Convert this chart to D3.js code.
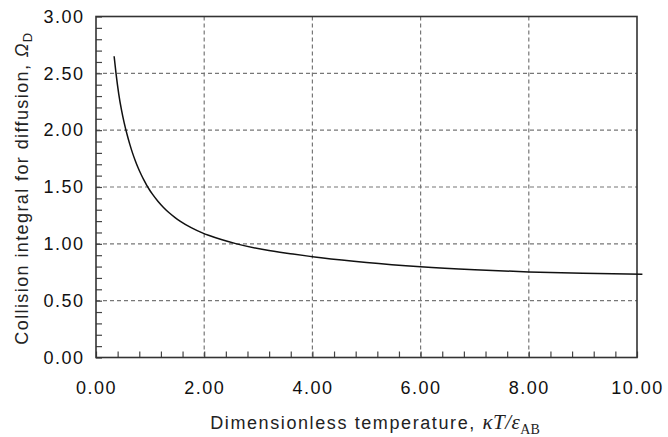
<!DOCTYPE html>
<html><head><meta charset="utf-8">
<script src="https://cdn.jsdelivr.net/npm/d3@7"></script>
<style>body{margin:0;background:#fff}svg{display:block}</style>
</head><body>
<svg id="c" width="668" height="437"></svg>
<script>
const temperature = [0.335, 0.37, 0.42, 0.47, 0.52, 0.572, 0.624, 0.676, 0.728, 0.78, 0.832, 0.884, 0.936, 0.988, 1.04, 1.144, 1.248, 1.352, 1.456, 1.56, 1.768, 1.976, 2.08, 2.6, 3.12, 3.64, 4.16, 5.0, 6.0, 7.0, 8.0, 9.0, 10.1];
const omegaD =      [2.65, 2.50, 2.32, 2.18, 2.066, 1.966, 1.877, 1.798, 1.729, 1.667, 1.612, 1.562, 1.517, 1.476, 1.439, 1.375, 1.320, 1.273, 1.233, 1.198, 1.140, 1.094, 1.075, 0.9996, 0.947, 0.91, 0.877, 0.835, 0.798, 0.772, 0.753, 0.741, 0.732];
const xTicks = [0, 2, 4, 6, 8, 10];
const yTicks = [0, 0.5, 1.0, 1.5, 2.0, 2.5, 3.0];
const xMinor = d3.range(0, 10.001, 0.4);
const yMinor = d3.range(0, 3.001, 0.1);

const svg = d3.select("#c");
const L = 96, R = 637, T = 16.5, B = 357.5;
const x = d3.scaleLinear().domain([0, 10]).range([L, R]);
const y = d3.scaleLinear().domain([0, 3]).range([B, T]);
const font = "'Liberation Sans', Arial, sans-serif";
const serif = "'Liberation Serif', 'Times New Roman', serif";

// grid
const g = svg.append("g");
g.selectAll(".gx").data(xTicks.filter(d => d > 0 && d < 10)).enter().append("line")
  .attr("x1", d => x(d)).attr("x2", d => x(d)).attr("y1", T).attr("y2", B)
  .attr("stroke", "#777").attr("stroke-width", 1.2).attr("stroke-dasharray", "4,3");
g.selectAll(".gy").data(yTicks.filter(d => d > 0 && d < 3)).enter().append("line")
  .attr("y1", d => y(d)).attr("y2", d => y(d)).attr("x1", L).attr("x2", R)
  .attr("stroke", "#777").attr("stroke-width", 1.2).attr("stroke-dasharray", "4,3");

// minor ticks (inside)
svg.append("g").attr("transform", `translate(${L},0)`)
  .call(d3.axisRight(y).tickValues(yMinor).tickSize(6).tickFormat(""))
  .call(a => a.select(".domain").remove())
  .selectAll("line").attr("stroke", "#444").attr("stroke-width", 1.2);
svg.append("g").attr("transform", `translate(0,${B})`)
  .call(d3.axisTop(x).tickValues(xMinor).tickSize(6).tickFormat(""))
  .call(a => a.select(".domain").remove())
  .selectAll("line").attr("stroke", "#444").attr("stroke-width", 1.2);

// tick labels
const yAx = svg.append("g").attr("transform", `translate(${L},0)`)
  .call(d3.axisLeft(y).tickValues(yTicks).tickSize(0).tickPadding(11.5).tickFormat(d3.format(".2f")));
yAx.select(".domain").remove();
yAx.selectAll("text").attr("font-family", font).attr("font-size", 18).attr("letter-spacing", 1.5).attr("fill", "#111");
const xAx = svg.append("g").attr("transform", `translate(0,${B})`)
  .call(d3.axisBottom(x).tickValues(xTicks).tickSize(0).tickPadding(24).tickFormat(d3.format(".2f")));
xAx.select(".domain").remove();
xAx.selectAll("text").attr("font-family", font).attr("font-size", 18).attr("letter-spacing", 1.5).attr("fill", "#111");

// frame
svg.append("rect").attr("x", L).attr("y", T).attr("width", R - L).attr("height", B - T)
  .attr("fill", "none").attr("stroke", "#333").attr("stroke-width", 1.6);

// curve
const pts = temperature.map((t, i) => [t, omegaD[i]]);
svg.append("path").datum(pts)
  .attr("d", d3.line().x(d => x(d[0])).y(d => y(d[1])).curve(d3.curveMonotoneX))
  .attr("fill", "none").attr("stroke", "#111").attr("stroke-width", 1.5);

// x title
const xt = svg.append("text").attr("x", 375).attr("y", 429).attr("text-anchor", "middle")
  .attr("font-family", font).attr("font-size", 18).attr("letter-spacing", 1.6).attr("fill", "#222");
xt.append("tspan").text("Dimensionless temperature, ");
xt.append("tspan").attr("font-family", serif).attr("font-style", "italic").attr("font-size", 21).attr("letter-spacing", 0.5).text("κT/ε");
xt.append("tspan").attr("font-family", serif).attr("font-size", 14).attr("letter-spacing", 0).attr("dy", 5).text("AB");

// y title
const yt = svg.append("text").attr("transform", `translate(28,${(T + B) / 2 + 1}) rotate(-90)`)
  .attr("text-anchor", "middle").attr("font-family", font).attr("font-size", 18).attr("letter-spacing", 1.4).attr("fill", "#222");
yt.append("tspan").text("Collision integral for diffusion, ");
yt.append("tspan").attr("font-style", "italic").text("Ω");
yt.append("tspan").attr("font-size", 13).attr("dy", 4).text("D");
</script>
</body></html>
